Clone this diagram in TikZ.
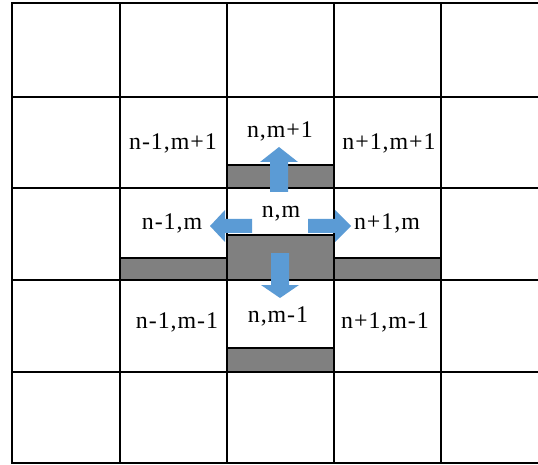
\documentclass[tikz,border=0pt]{standalone}
\usepackage{fontspec}
\setmainfont{Liberation Serif}[LetterSpace=4]
\definecolor{arrowblue}{HTML}{5B9BD5}
\definecolor{bargray}{HTML}{808080}
\begin{document}
\begin{tikzpicture}[x=1bp,y=-1bp,
  gridline/.style={line width=2.3bp,black},
  bar/.style={fill=bargray,draw=black,line width=2bp},
  blockarrow/.style={fill=arrowblue,draw=none},
  lbl/.style={anchor=base,inner sep=0pt,font=\fontsize{24}{26}\selectfont}]
\useasboundingbox (0,0) rectangle (538,465);
\fill[white] (0,0) rectangle (538,465);
% gray bars
\path[bar] (227,165) rectangle (334,188);
\path[bar] (227,235) rectangle (334,280);
\path[bar] (120,258) rectangle (227,280);
\path[bar] (334,258) rectangle (441,280);
\path[bar] (227,348) rectangle (334,372);
% grid
\foreach \x in {12,120,227,334,441} \draw[gridline] (\x,3) -- (\x,463);
\foreach \y in {3,97,188,280,372,463} \draw[gridline] (11,\y) -- (538,\y);
% arrows
\path[blockarrow] (270,192) -- (270,162) -- (260,162) -- (279,147) -- (298,162) -- (288,162) -- (288,192) -- cycle;
\path[blockarrow] (252,219) -- (225,219) -- (225,210) -- (210,226) -- (225,242) -- (225,233) -- (252,233) -- cycle;
\path[blockarrow] (308,219) -- (335,219) -- (335,210) -- (351,226) -- (335,242) -- (335,233) -- (308,233) -- cycle;
\path[blockarrow] (271,253) -- (271,285) -- (261,285) -- (280,298) -- (299,285) -- (289,285) -- (289,253) -- cycle;
% labels
\node[lbl] (nw) at (173,150) {n-1,m+1};
\node[lbl] (n)  at (280,138) {n,m+1};
\node[lbl] (ne) at (389,150) {n+1,m+1};
\node[lbl] (w)  at (172,230) {n-1,m};
\node[lbl] (c)  at (281,218) {n,m};
\node[lbl] (e)  at (387,230) {n+1,m};
\node[lbl] (sw) at (177,328) {n-1,m-1};
\node[lbl] (s)  at (278,322) {n,m-1};
\node[lbl] (se) at (385,328) {n+1,m-1};
\end{tikzpicture}
\end{document}
